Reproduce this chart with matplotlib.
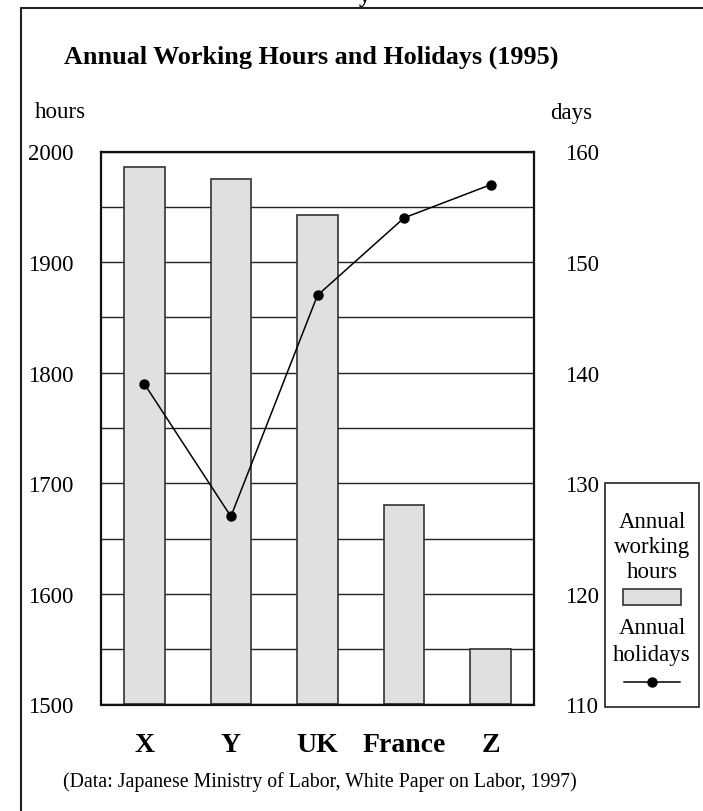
import matplotlib
matplotlib.use("Agg")
import matplotlib.pyplot as plt
from matplotlib.patches import Rectangle
from matplotlib.lines import Line2D

plt.rcParams['font.family'] = ['Liberation Serif', 'DejaVu Serif']

categories = ["X", "Y", "UK", "France", "Z"]
hours = [1986, 1975, 1943, 1680, 1550]
holidays = [139, 127, 147, 154, 157]
left_ticks = [1500, 1600, 1700, 1800, 1900, 2000]
right_ticks = [110, 120, 130, 140, 150, 160]

W, H = 703, 812
fig = plt.figure(figsize=(W / 100, H / 100), dpi=100)

def fx(px):
    return px / W

def fy(py):
    return 1 - py / H

ax_l, ax_r, ax_t, ax_b = 101, 534, 152.5, 705.5
ax = fig.add_axes([fx(ax_l), fy(ax_b), fx(ax_r - ax_l), (ax_b - ax_t) / H])
ax.set_xlim(-0.5, 4.5)
ax.set_ylim(1500, 2000)
ax.set_yticks(left_ticks)
ax.set_yticks(range(1500, 2001, 50), minor=True)
ax.yaxis.grid(True, which='both', color='#222222', linewidth=1.0)
ax.set_axisbelow(True)
ax.bar(range(len(categories)), [h - 1500 for h in hours], bottom=1500, width=0.47,
       color='#e0e0e0', edgecolor='#333333', linewidth=1.2, zorder=2)
ax.set_xticks(range(len(categories)))
ax.set_xticklabels(categories, fontsize=20, fontweight='bold')
ax.tick_params(axis='x', length=0, pad=20)
ax.tick_params(axis='y', which='both', length=0, pad=20, labelsize=16.5)
for s in ax.spines.values():
    s.set_linewidth(1.6)
    s.set_color('#111111')
    s.set_zorder(5)

ax2 = ax.twinx()
ax2.set_ylim(110, 160)
ax2.set_yticks(right_ticks)
ax2.tick_params(axis='y', length=0, pad=22, labelsize=16.5)
ax2.plot(range(len(categories)), holidays, color='black', linewidth=1.1,
         marker='o', markersize=6.5, zorder=4)
for s in ax2.spines.values():
    s.set_visible(False)

# outer frame
fig.patches.append(Rectangle((fx(20.5), -0.2), 1.2, fy(9) + 0.2, transform=fig.transFigure,
                             fill=False, edgecolor='#222222', linewidth=1.5))

# cut-off text at top
fig.text(fx(365), fy(-3), "y", fontsize=17, fontweight='bold', ha='center', va='center')

fig.text(fx(64), fy(57), "Annual Working Hours and Holidays (1995)", fontsize=18.8,
         fontweight='bold', ha='left', va='center')
fig.text(fx(35), fy(113), "hours", fontsize=16.5, ha='left', va='center')
fig.text(fx(550), fy(113), "days", fontsize=16.5, ha='left', va='center')
fig.text(fx(63), fy(782), "(Data: Japanese Ministry of Labor, White Paper on Labor, 1997)",
         fontsize=14.3, ha='left', va='center')

# legend box
lx0, lx1, ly0, ly1 = 605, 699, 484, 708
fig.patches.append(Rectangle((fx(lx0), fy(ly1)), fx(lx1 - lx0), (ly1 - ly0) / H,
                             transform=fig.transFigure, fill=True, facecolor='white',
                             edgecolor='#222222', linewidth=1.2))
cx = (lx0 + lx1) / 2
for txt, yy in [("Annual", 522), ("working", 547), ("hours", 572), ("Annual", 628), ("holidays", 656)]:
    fig.text(fx(cx), fy(yy), txt, fontsize=16.5, ha='center', va='center')
fig.patches.append(Rectangle((fx(623), fy(606)), fx(58), 16 / H, transform=fig.transFigure,
                             facecolor='#e0e0e0', edgecolor='#333333', linewidth=1.2))
fig.lines.append(Line2D([fx(624), fx(680)], [fy(683), fy(683)], transform=fig.transFigure,
                        color='black', linewidth=1.1, marker=None))
fig.lines.append(Line2D([fx(652)], [fy(683)], transform=fig.transFigure,
                        color='black', marker='o', markersize=6.5, linestyle='none'))

fig.savefig("out.png", dpi=100)
